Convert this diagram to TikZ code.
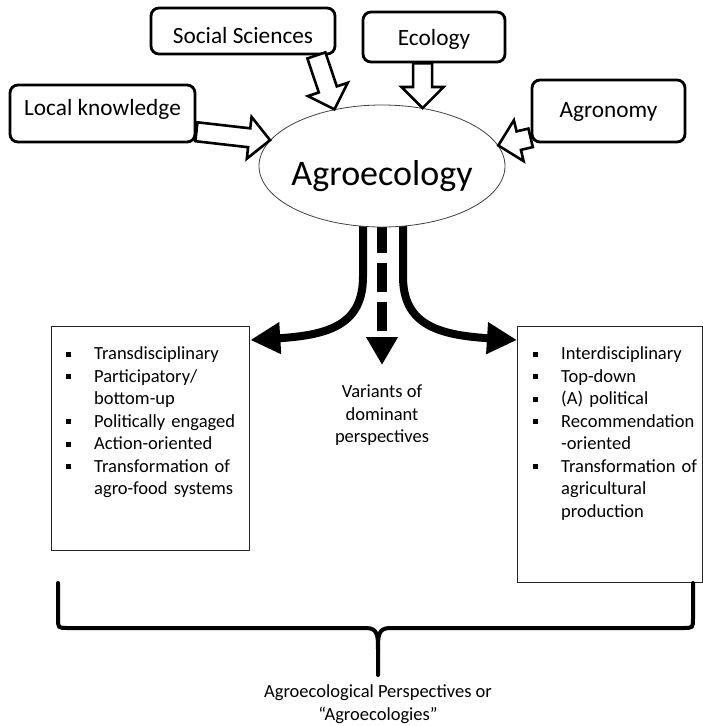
\documentclass[tikz,border=0pt]{standalone}
\usepackage{fontspec}
\setmainfont{Carlito}
\usetikzlibrary{arrows.meta,calc,shapes.geometric,backgrounds}

\newcommand{\bitem}[1]{\par\raggedright\noindent\hangindent=28pt\hangafter=1\makebox[28pt][l]{\rule[3pt]{5pt}{5pt}}#1}
\newcommand{\fatarrow}[2]{%
  \coordinate (h) at ($(#2)!21pt!(#1)$);
  \draw[hollow] ($(#1)!9.5pt!90:(#2)$) -- ($(h)!9.5pt!-90:(#1)$) -- ($(h)!21pt!-90:(#1)$)
    -- (#2) -- ($(h)!21pt!90:(#1)$) -- ($(h)!9.5pt!90:(#1)$) -- ($(#1)!9.5pt!-90:(#2)$) -- cycle;}

\begin{document}
\begin{tikzpicture}[x=1pt, y=-1pt,
    topic/.style={draw, line width=2.8pt, rounded corners=8pt, fill=white,
      font=\fontsize{23.3pt}{28pt}\selectfont, inner sep=0pt, text depth=0pt},
    hollow/.style={draw, line width=2.6pt, fill=white, line join=miter},
    listbox/.style={draw=black!85, line width=1.3pt, fill=white, inner sep=0pt, anchor=north west},
    listtext/.style={text width=#1, inner sep=0pt, anchor=north west,
      font=\fontsize{18.5pt}{22.5pt}\selectfont},
    note/.style={align=center, inner sep=0pt, font=\fontsize{18.5pt}{22.5pt}\selectfont},
    thickflow/.style={line width=8pt, -{Triangle[length=30pt,width=30pt]}}]
    \useasboundingbox (0,0) rectangle (703,726);

    % sources
    \node[topic, minimum width=184pt, minimum height=46pt, text height=24pt] (ss) at (243,31) {Social Sciences\hspace{12pt}};
    \node[topic, minimum width=142pt, minimum height=50pt, text height=16pt] (eco) at (434,37) {Ecology};
    \node[topic, minimum width=185pt, minimum height=57pt, text height=3pt] (lk) at (102.5,113.5) {Local knowledge};
    \node[topic, minimum width=153pt, minimum height=62pt, text height=12pt] (agr) at (608.5,111) {Agronomy};

    \node[ellipse, draw=black!75, line width=0.8pt, fill=white, minimum width=246pt,
      minimum height=122pt, inner sep=0pt] (ae) at (382,166) {};
    \node[font=\fontsize{36pt}{44pt}\selectfont, text height=38pt, text depth=0pt, inner sep=0pt] (aetxt) at (ae) {Agroecology};

    \coordinate (lkA) at (lk.-11);
    \coordinate (lkB) at (ae.167);
    \fatarrow{lkA}{lkB}
    \coordinate (ssA) at ($(ss.south east)+(-20,0)$);
    \coordinate (ssB) at (ae.130);
    \fatarrow{ssA}{ssB}
    \coordinate (ecoB) at (ae.55);
    \coordinate (ecoA) at (ecoB |- eco.south);
    \fatarrow{ecoA}{ecoB}
    \coordinate (agrA) at (agr.199);
    \coordinate (agrB) at (ae.10);
    \fatarrow{agrA}{agrB}

    % perspectives
    \node[listbox, minimum width=198pt, minimum height=224pt] (lb) at (51,326) {};
    \node[listtext=180pt] (lbt) at ($(lb.north west)+(15,11)$) {%
      \bitem{Transdisciplinary}
      \bitem{Participatory/\newline bottom-up}
      \bitem{Politically engaged}
      \bitem{Action-oriented}
      \bitem{Transformation of\newline agro-food systems}\par};
    \node[listbox, minimum width=185pt, minimum height=256pt] (rb) at (517,326) {};
    \node[listtext=168pt] (rbt) at ($(rb.north west)+(16,11)$) {%
      \bitem{Interdisciplinary}
      \bitem{Top-down}
      \bitem{(A) political}
      \bitem{Recommendation\newline -oriented}
      \bitem{Transformation of\newline agricultural\newline production}\par};
    \node[note, anchor=north] (vd) at (382,385) {Variants of\\dominant\\perspectives};

    \begin{scope}[on background layer]
      \draw[thickflow] ($(ae.south)+(-19,-3)$) -- ++(0,52)
        .. controls +(0,47) and ($(lb.north east)+(81,9)$) .. ($(lb.north east)+(0,14)$);
      \draw[thickflow] ($(ae.south)+(21,-3)$) -- ++(0,52)
        .. controls +(0,47) and ($(rb.north west)+(-81,9)$) .. ($(rb.north west)+(0,14)$);
      \draw[line width=10pt, dash pattern=on 29pt off 10pt, -{Triangle[length=28pt,width=30pt]}]
        ($(ae.south)+(0,-3)$) -- ($(vd.north)+(0,-20)$);
    \end{scope}

    % brace
    \draw[line width=4pt, line cap=round] (58,583) -- (58,618) .. controls (58,628) .. (68,628)
      -- (366,628) .. controls (378,628) and (378,636) .. (378,650) -- (378,675);
    \draw[line width=4pt, line cap=round] (378,650) .. controls (378,636) and (378,628) .. (390,628)
      -- (683,628) .. controls (693,628) .. (693,618) -- (693,583);
    \node[note] (persp) at (378,704) {Agroecological Perspectives or\\“Agroecologies”};
\end{tikzpicture}
\end{document}
